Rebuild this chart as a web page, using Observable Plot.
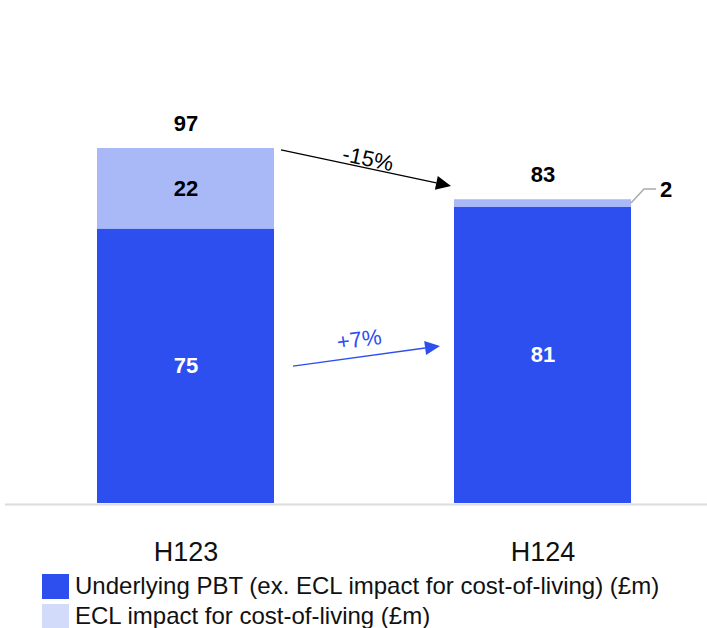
<!DOCTYPE html>
<html><head><meta charset="utf-8">
<script src="https://cdn.jsdelivr.net/npm/d3@7"></script>
<script src="https://cdn.jsdelivr.net/npm/@observablehq/plot@0.6"></script>
<style>
body{margin:0;background:#fff;font-family:"Liberation Sans",Arial,sans-serif;}
#legend{margin-left:42px;margin-top:3px}
.row{display:flex;align-items:center;height:30px;font-size:24px;color:#111}
.sw{width:27px;height:25px;margin-right:6px;flex:none}
</style></head><body>
<div id="chart"></div>
<div id="legend"></div>
<script>
// ---- data ----
const periods = ["H123", "H124"];
const underlying = [75, 81];
const ecl = [22, 2];
const totals = [97, 83];
const seriesNames = ["Underlying PBT (ex. ECL impact for cost-of-living) (£m)", "ECL impact for cost-of-living (£m)"];
const changeLabels = ["-15%", "+7%"];
const changeFrom = [96.5, 37.4];   // y-level (data units) where each change arrow starts
const changeTo = [86.6, 42.9];     // y-level where each arrow ends

// ---- styles ----
const darkBlue = "#2E4FF0";
const lightBlue = "#A9B9F8";
const legendLight = "#D3DBFA";
const arrowColors = ["#000", darkBlue];
const arrowWidths = [1.3, 1.5];
const startGap = [7, 19];
const endGap = [3, 14];
const labelLift = [2, 10];
const labelShift = [0, -5];

const rows = [];
periods.forEach((p, i) => {
  rows.push({period: p, series: seriesNames[0], value: underlying[i]});
  rows.push({period: p, series: seriesNames[1], value: ecl[i]});
});
const totalRows = periods.map((p, i) => ({period: p, total: totals[i]}));

const chart = Plot.plot({
  width: 707,
  height: 568,
  marginLeft: 5,
  marginRight: 0,
  marginTop: 0,
  marginBottom: 65,
  style: {fontFamily: "'Liberation Sans', Arial, sans-serif", background: "#fff"},
  x: {type: "band", domain: periods, range: [25, 704], paddingInner: 0.503, paddingOuter: 0.2, align: 0.5},
  y: {domain: [0, 97], range: [503, 148], axis: null},
  color: {domain: seriesNames, range: [darkBlue, lightBlue]},
  marks: [
    Plot.barY(rows, Plot.stackY({x: "period", y: "value", fill: "series"})),
    Plot.ruleY([0], {stroke: "#dcdcdc", strokeWidth: 2, dy: 1}),
    Plot.text(rows, Plot.stackY({
      x: "period", y: "value",
      text: d => d.value >= 5 ? String(d.value) : "",
      fill: d => d.series === seriesNames[0] ? "#fff" : "#000",
      fontSize: 22, fontWeight: "bold"
    })),
    Plot.text(totalRows, {x: "period", y: "total", text: d => String(d.total), dy: -25, fontSize: 22, fontWeight: "bold", fill: "#000"}),
    Plot.axisX({tickSize: 0, tickPadding: 38, fontSize: 27, fill: "#111", label: null})
  ]
});
document.getElementById("chart").appendChild(chart);

// ---- annotations drawn through Plot's scales ----
const sx = chart.scale("x"), sy = chart.scale("y");
const bw = sx.bandwidth;
const svg = d3.select(chart);
const g = svg.append("g");
changeLabels.forEach((lab, i) => {
  const xa = sx.apply(periods[0]) + bw + startGap[i];
  const xb = sx.apply(periods[1]) - endGap[i];
  const ya = sy.apply(changeFrom[i]), yb = sy.apply(changeTo[i]);
  const ang = Math.atan2(yb - ya, xb - xa);
  const hl = 15, hw = 7;
  const bx = xb - hl * Math.cos(ang), by = yb - hl * Math.sin(ang);
  g.append("line").attr("x1", xa).attr("y1", ya).attr("x2", bx).attr("y2", by)
    .attr("stroke", arrowColors[i]).attr("stroke-width", arrowWidths[i]);
  const px = -Math.sin(ang), py = Math.cos(ang);
  g.append("path").attr("d", `M${xb},${yb}L${bx + px * hw},${by + py * hw}L${bx - px * hw},${by - py * hw}Z`)
    .attr("fill", arrowColors[i]);
  const mx = (xa + xb) / 2, my = (ya + yb) / 2;
  g.append("text").attr("transform", `translate(${mx},${my}) rotate(${ang * 180 / Math.PI})`)
    .attr("x", labelShift[i]).attr("y", -labelLift[i])
    .attr("text-anchor", "middle").attr("font-size", 22)
    .attr("fill", arrowColors[i]).text(lab);
});
// leader for the small ECL segment of H124
{
  const i = 1;
  const cx = sx.apply(periods[i]) + bw;
  const cy = sy.apply(underlying[i] + ecl[i] / 2);
  g.append("path").attr("d", `M${cx},${cy}L${cx + 13},${cy - 14}L${cx + 25},${cy - 14}`)
    .attr("fill", "none").attr("stroke", "#aaa").attr("stroke-width", 1.5);
  g.append("text").attr("x", cx + 35).attr("y", cy - 14).attr("dy", "0.36em")
    .attr("font-size", 22).attr("font-weight", "bold").attr("fill", "#000").text(String(ecl[i]));
}

// ---- legend ----
const leg = document.getElementById("legend");
[darkBlue, legendLight].forEach((c, i) => {
  const r = document.createElement("div"); r.className = "row";
  const s = document.createElement("div"); s.className = "sw"; s.style.background = c;
  const t = document.createElement("span"); t.textContent = seriesNames[i];
  r.appendChild(s); r.appendChild(t); leg.appendChild(r);
});
</script>
</body></html>
